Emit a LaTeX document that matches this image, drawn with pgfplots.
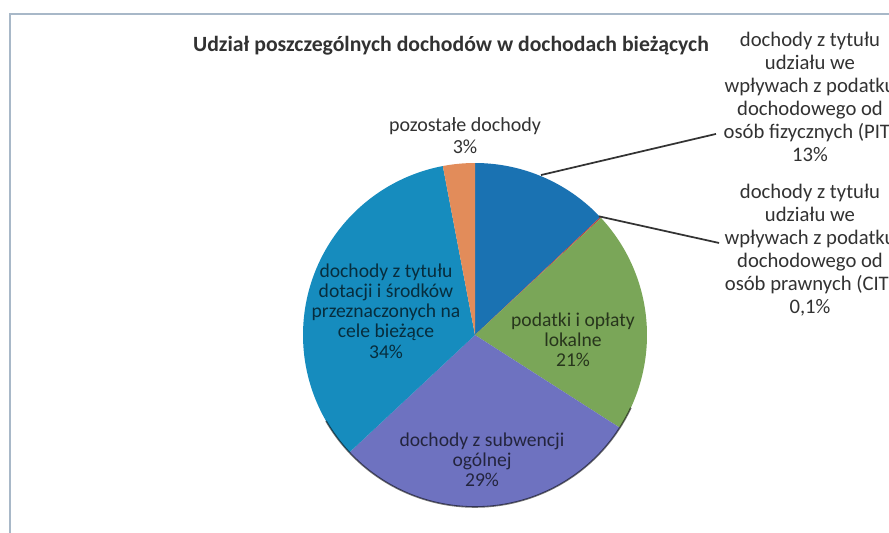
\documentclass[border=0pt]{standalone}
\usepackage{pgfplots}
\pgfplotsset{compat=1.18}
\usepackage{fontspec}
\setmainfont{Carlito}
\definecolor{cPIT}{RGB}{26,114,178}
\definecolor{cCIT}{RGB}{200,60,60}
\definecolor{cLOK}{RGB}{122,166,88}
\definecolor{cSUB}{RGB}{110,114,192}
\definecolor{cDOT}{RGB}{22,140,190}
\definecolor{cPOZ}{RGB}{226,140,90}
\definecolor{frame}{RGB}{168,184,200}
\definecolor{lbl}{RGB}{50,50,50}
% shares (%), clockwise from 12 o'clock
\def\vPIT{13}\def\vCIT{0.1}\def\vLOK{21}\def\vSUB{29}\def\vDOT{34}\def\vPOZ{3}
\pgfmathsetmacro\tot{\vPIT+\vCIT+\vLOK+\vSUB+\vDOT+\vPOZ}
\pgfmathsetmacro\aA{90}
\pgfmathsetmacro\aB{\aA-360*\vPIT/\tot}
\pgfmathsetmacro\aC{\aB-360*\vCIT/\tot}
\pgfmathsetmacro\aD{\aC-360*\vLOK/\tot}
\pgfmathsetmacro\aE{\aD-360*\vSUB/\tot}
\pgfmathsetmacro\aF{\aE-360*\vDOT/\tot}
\pgfmathsetmacro\aG{\aF-360*\vPOZ/\tot}
\begin{document}
\begin{tikzpicture}[x=0.75pt,y=0.75pt]
\path[use as bounding box] (0,0) rectangle (889,532);
\clip (0,0) rectangle (889,532);
\fill[white] (0,0) rectangle (889,532);
\draw[frame, line width=1.5pt] (10,518) rectangle (905,-30);
\coordinate (pc) at (475,197);
\begin{axis}[at={(pc)}, anchor=center, scale only axis,
  width=258pt, height=258pt, hide axis,
  xmin=-1, xmax=1, ymin=-1, ymax=1, clip=false]
\addplot[fill=cPIT, draw=none, domain=\aB:\aA, samples=60] ({cos(x)},{sin(x)}) -- (axis cs:0,0) -- cycle;
\addplot[fill=cCIT, draw=none, domain=\aC:\aB, samples=5] ({cos(x)},{sin(x)}) -- (axis cs:0,0) -- cycle;
\addplot[fill=cLOK, draw=none, domain=\aD:\aC, samples=60] ({cos(x)},{sin(x)}) -- (axis cs:0,0) -- cycle;
\addplot[fill=cSUB, draw=none, domain=\aE:\aD, samples=80] ({cos(x)},{sin(x)}) -- (axis cs:0,0) -- cycle;
\addplot[fill=cDOT, draw=none, domain=\aF:\aE, samples=90] ({cos(x)},{sin(x)}) -- (axis cs:0,0) -- cycle;
\addplot[fill=cPOZ, draw=none, domain=\aG:\aF, samples=20] ({cos(x)},{sin(x)}) -- (axis cs:0,0) -- cycle;
\addplot[draw=black, opacity=0.55, line width=1.2pt, domain=-150:-25, samples=80] ({cos(x)},{sin(x)});
% leader lines
\draw[black!80, line width=1.3pt] (axis cs:0.384,0.930) -- (axis cs:1.401,1.169);
\draw[black!80, line width=1.3pt] (axis cs:0.72,0.69) -- (axis cs:1.419,0.535);
\end{axis}
% title
\node[font=\fontsize{16.3}{19}\selectfont\bfseries, text=lbl] at (451,486) {Udział poszczególnych dochodów w dochodach bieżących};
% outside labels
\node[align=center, font=\fontsize{15.5}{17.25}\selectfont, text=lbl, anchor=north] at (810,505) {dochody z tytułu\\udziału we\\wpływach z podatku\\dochodowego od\\osób fizycznych (PIT)\\13\%};
\node[align=center, font=\fontsize{15.5}{17.25}\selectfont, text=lbl, anchor=north] at (810,353) {dochody z tytułu\\udziału we\\wpływach z podatku\\dochodowego od\\osób prawnych (CIT)\\0,1\%};
\node[align=center, font=\fontsize{15}{16.5}\selectfont, text=lbl] at (465,396) {pozostałe dochody\\3\%};
% inside labels
\node[align=center, font=\fontsize{14.7}{15.2}\selectfont, text=black, text opacity=0.68] at (386,221) {dochody z tytułu\\dotacji i środków\\przeznaczonych na\\cele bieżące\\34\%};
\node[align=center, font=\fontsize{14.7}{15.2}\selectfont, text=black, text opacity=0.68] at (573,192) {podatki i opłaty\\lokalne\\21\%};
\node[align=center, font=\fontsize{14.7}{15.2}\selectfont, text=black, text opacity=0.68] at (482,72) {dochody z subwencji\\ogólnej\\29\%};
\end{tikzpicture}
\end{document}
